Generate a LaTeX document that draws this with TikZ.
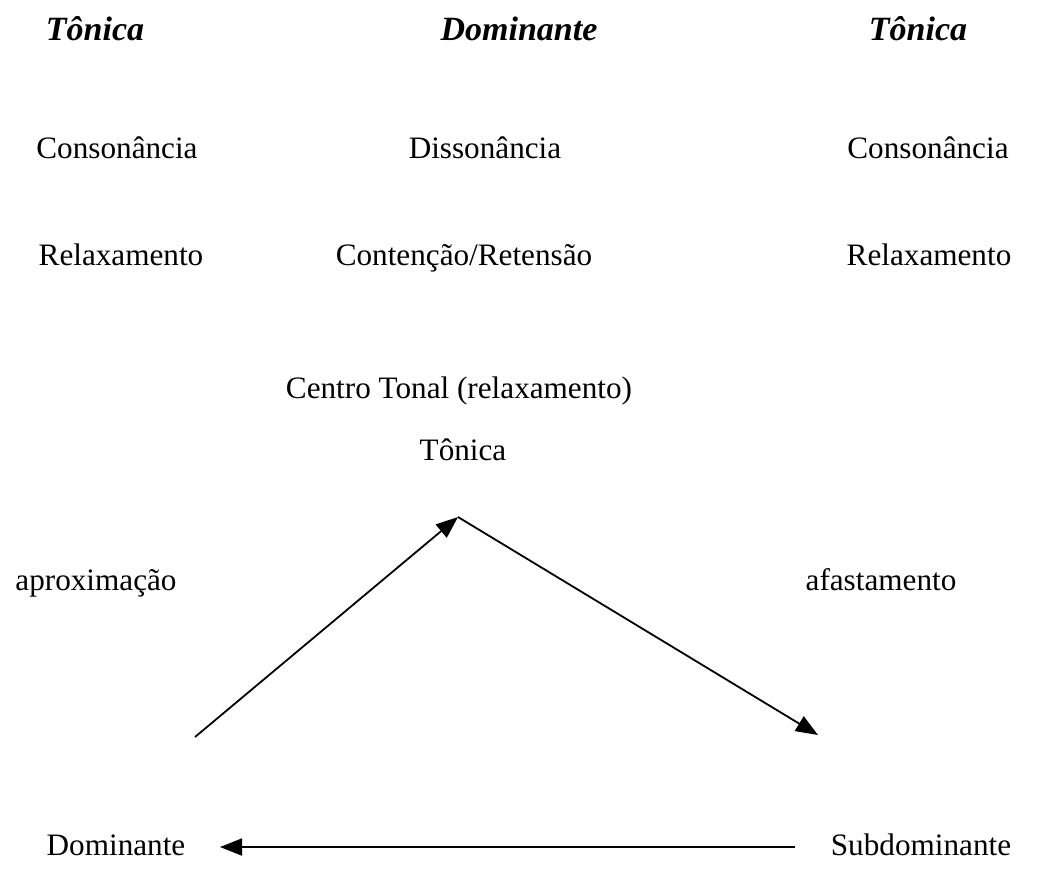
\documentclass[tikz,border=0pt]{standalone}
\usepackage{fontspec}
\setmainfont{Liberation Serif}
\usetikzlibrary{arrows.meta, positioning}

\begin{document}
\begin{tikzpicture}[
    x=0.5pt, y=-0.5pt,
    term/.style={anchor=base, inner sep=0pt, font=\fontsize{15.6}{18}\selectfont},
    head/.style={anchor=base, inner sep=0pt, font=\fontsize{17}{20}\selectfont\bfseries\itshape},
    flow/.style={-{Triangle[length=11pt, width=8.5pt]}, line width=0.9pt}
]
    \useasboundingbox (0,0) rectangle (1047,878);
    % Nodes
    \node[head] (tonA) at (95,40) {Tônica};
    \node[head] (domA) at (519,40) {Dominante};
    \node[head] (tonB) at (918,40) {Tônica};
    \node[term] (consA) at (117,158) {Consonância};
    \node[term] (diss) at (485,158) {Dissonância};
    \node[term] (consB) at (928,158) {Consonância};
    \node[term] (relA) at (121,265) {Relaxamento};
    \node[term] (cont) at (464,265) {Contenção/Retensão};
    \node[term] (relB) at (929,265) {Relaxamento};
    \node[term] (centro) at (459,398) {Centro Tonal (relaxamento)};
    \node[term] (tonica) at (463,460) {Tônica};
    \node[term] (aprox) at (96,590) {aproximação};
    \node[term] (afast) at (881,590) {afastamento};
    \node[term] (dom) at (116,855) {Dominante};
    \node[term] (subdom) at (921,855) {Subdominante};
    % Corners of the cycle
    \coordinate (apex) at (458,517);
    \coordinate (leftfoot) at (195,737);
    \coordinate (rightfoot) at (818,735);
    \coordinate (subend) at (795,847);
    \coordinate (domend) at (220,847);
    % Connections
    \draw[flow] (leftfoot) -- (apex);
    \draw[flow] (apex) -- (rightfoot);
    \draw[flow] (subend) -- (domend);
\end{tikzpicture}
\end{document}
